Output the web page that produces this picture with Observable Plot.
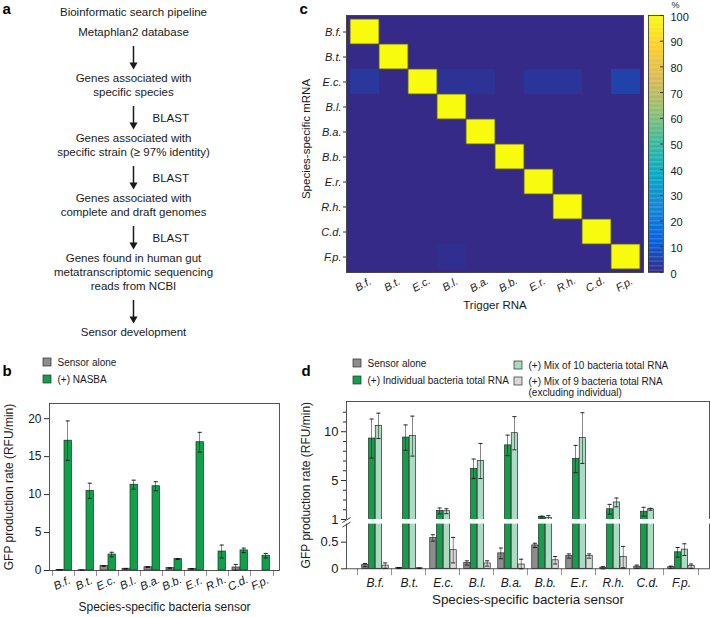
<!DOCTYPE html>
<html><head><meta charset="utf-8">
<script src="https://cdn.jsdelivr.net/npm/d3@7"></script>
<script src="https://cdn.jsdelivr.net/npm/@observablehq/plot@0.6"></script>
<style>
body{margin:0;background:#fff;}
#chart{position:relative;width:710px;height:617px;overflow:hidden;background:#fff;}
</style></head><body><div id="chart"></div>
<script>
const FONT = '"Liberation Sans", Arial, Helvetica, sans-serif';
const W = 710, H = 617;
const EDGE = "#2b2b2b", INK = "#1a1a1a";
const GRAY = "#8d8d8d", GREEN = "#10a04c", LIGHTGREEN = "#abdcc1", LIGHTGRAY = "#d9d9d9";

// ---------- shared categories ----------
const species = ["B.f.", "B.t.", "E.c.", "B.l.", "B.a.", "B.b.", "E.r.", "R.h.", "C.d.", "F.p."];

// ---------- panel a: flowchart ----------
const flowTitle = "Bioinformatic search pipeline";
const flowSteps = [
  "Metaphlan2 database",
  "Genes associated with\nspecific species",
  "Genes associated with\nspecific strain (\u2265 97% identity)",
  "Genes associated with\ncomplete and draft genomes",
  "Genes found in human gut\nmetatranscriptomic sequencing\nreads from NCBI",
  "Sensor development"
];
const flowArrowLabels = ["", "BLAST", "BLAST", "BLAST", ""];

// ---------- panel b ----------
const bLegend = ["Sensor alone", "(+) NASBA"];
const bSensorAlone    = [0.05, 0.04, 0.60, 0.23, 0.44, 0.32, 0.22, 0.00, 0.40, 0.00];
const bSensorAloneErr = [0.02, 0.02, 0.05, 0.04, 0.05, 0.04, 0.04, 0.00, 0.40, 0.00];
const bNasba    = [17.1, 10.5, 2.1, 11.3, 11.1, 1.5, 16.9, 2.5, 2.65, 1.95];
const bNasbaErr = [2.6, 1.0, 0.3, 0.6, 0.6, 0.05, 1.3, 0.85, 0.3, 0.3];
const bYTicks = [0, 5, 10, 15, 20];

// ---------- panel c ----------
const cMatrix = [ // rows: species-specific mRNA, columns: trigger RNA (%)
  [100, 0, 0, 0, 0, 0, 0, 0, 0, 0],
  [0, 100, 0, 0, 0, 0, 0, 0, 0, 0],
  [3, 0, 100, 2, 2, 0, 2.5, 2.5, 0, 5],
  [0, 0, 0, 100, 0, 0, 0, 0, 0, 0],
  [0, 0, 0, 0, 100, 0, 0, 0, 0, 0],
  [0, 0, 0, 0, 0, 100, 0, 0, 0, 0],
  [0, 0, 0, 0, 0, 0, 100, 0, 0, 0],
  [0, 0, 0, 0, 0, 0, 0, 100, 0, 0],
  [0, 0, 0, 0, 0, 0, 0, 0, 100, 0],
  [0, 0, 0, 1.2, 0, 0, 0, 0, 0, 100]
];
const cColorTicks = [0, 10, 20, 30, 40, 50, 60, 70, 80, 90, 100];
const parula = ["#352a87", "#0363e1", "#1485d4", "#06a7c6", "#38b99e", "#92bf73", "#d9ba56", "#fcce2e", "#f9fb0e"];

// ---------- panel d ----------
const dLegend = ["Sensor alone", "(+) Individual bacteria total RNA", "(+) Mix of 10 bacteria total RNA", "(+) Mix of 9 bacteria total RNA\n(excluding individual)"];
const dSensorAlone    = [0.07, 0.015, 0.58, 0.11, 0.29, 0.44, 0.24, 0.02, 0.04, 0.03];
const dSensorAloneErr = [0.03, 0.01, 0.06, 0.04, 0.10, 0.04, 0.04, 0.02, 0.03, 0.02];
const dIndividual    = [9.3, 9.4, 1.88, 6.2, 8.6, 1.25, 7.2, 2.05, 1.8, 0.31];
const dIndividualErr = [2.0, 1.3, 0.3, 1.0, 1.05, 0.1, 1.4, 0.5, 0.45, 0.09];
const dMix10    = [10.6, 9.55, 1.85, 7.0, 9.85, 1.15, 9.35, 2.75, 2.05, 0.36];
const dMix10Err = [1.3, 2.05, 0.25, 1.8, 1.7, 0.25, 2.6, 0.45, 0.1, 0.11];
const dMix9    = [0.06, 0.01, 0.35, 0.10, 0.08, 0.16, 0.24, 0.22, 0.00, 0.05];
const dMix9Err = [0.05, 0.005, 0.24, 0.05, 0.10, 0.07, 0.04, 0.20, 0.00, 0.04];
const dMajorTicks = [0, 0.5, 1, 5, 10];
const dMinorTicks = [2, 3, 4, 6, 7, 8, 9, 11, 12];

// ================= rendering =================
const root = document.getElementById("chart");
const base = () => ({width: W, height: H,
  style: {background: "transparent", fontFamily: FONT, position: "absolute", left: "0px", top: "0px", color: INK}});

function groupedBars(rows, series, bw, offsets, barW) {
  const marks = [];
  series.forEach((s, k) => {
    const off = offsets[k];
    marks.push(Plot.barY(rows, {x: "sp", y1: 0, y2: s.v, fill: s.fill, stroke: EDGE, strokeWidth: 0.7,
      insetLeft: off, insetRight: bw - off - barW}));
  });
  series.forEach((s, k) => {
    const c = offsets[k] + barW / 2;
    const er = rows.filter(d => d[s.e] > 0);
    const lo = d => Math.max(0, d[s.v] - d[s.e]);
    const hi = d => d[s.v] + d[s.e];
    marks.push(Plot.barY(er, {x: "sp", y1: lo, y2: hi, fill: "#111", insetLeft: c - 0.5, insetRight: bw - c - 0.5}));
    marks.push(Plot.tickY(er, {x: "sp", y: hi, stroke: "#111", strokeWidth: 0.9, insetLeft: c - 2.3, insetRight: bw - c - 2.3}));
    marks.push(Plot.tickY(er, {x: "sp", y: lo, stroke: "#111", strokeWidth: 0.9, insetLeft: c - 2.3, insetRight: bw - c - 2.3}));
  });
  return marks;
}
function boundaryTicks(bw, len) {
  return [
    Plot.barY(species, {x: d => d, y1: 0, y2: -len, fill: EDGE, insetLeft: -0.5, insetRight: bw - 0.5}),
    Plot.barY([species[species.length - 1]], {x: d => d, y1: 0, y2: -len, fill: EDGE, insetLeft: bw - 0.5, insetRight: -0.5})
  ];
}

// ---- panel b ----
const bRange = [50, 275];
const bBW = (bRange[1] - bRange[0]) / species.length;
const bRows = species.map((sp, i) => ({sp, v0: bSensorAlone[i], e0: bSensorAloneErr[i], v1: bNasba[i], e1: bNasbaErr[i]}));
const plotB = Plot.plot({...base(),
  marginLeft: 49, marginRight: W - 279, marginTop: 403, marginBottom: H - 570,
  x: {type: "band", domain: species, range: bRange, padding: 0, axis: null},
  y: {type: "linear", domain: [0, 22], range: [570, 403]},
  marks: [
    ...groupedBars(bRows, [{v: "v0", e: "e0", fill: GRAY}, {v: "v1", e: "e1", fill: GREEN}], bBW, [3, 11], 8),
    Plot.frame({stroke: EDGE, strokeWidth: 0.8}),
    ...boundaryTicks(bBW, 0.8),
    Plot.axisY(bYTicks, {tickSize: 5, tickPadding: 3, fontSize: 12, label: null, stroke: EDGE}),
    Plot.text(species, {x: d => d, text: d => d, frameAnchor: "bottom", dy: 16, dx: -1, rotate: -25, textAnchor: "middle", fontStyle: "italic", fontSize: 11.5}),
    Plot.text(["Species-specific bacteria sensor"], {text: d => d, frameAnchor: "bottom", dy: 40, textAnchor: "middle", fontSize: 12}),
    Plot.text(["GFP production rate (RFU/min)"], {text: d => d, frameAnchor: "left", dx: -40, rotate: -90, textAnchor: "middle", fontSize: 12})
  ]
});
root.appendChild(plotB);

// ---- panel c ----
const cells = [];
cMatrix.forEach((row, i) => row.forEach((v, j) => cells.push({mrna: species[i], trig: species[j], v})));
const colorScale = () => ({type: "linear", domain: parula.map((_, i) => 100 * i / (parula.length - 1)), range: parula, interpolate: "rgb"});
const plotC = Plot.plot({...base(),
  marginLeft: 346, marginRight: W - 643, marginTop: 15, marginBottom: H - 272,
  x: {type: "band", domain: species, range: [346, 643], padding: 0, axis: null},
  y: {type: "band", domain: species, range: [15, 272], padding: 0},
  color: colorScale(),
  marks: [
    Plot.frame({fill: parula[0]}),
    Plot.cell(cells, {x: "trig", y: "mrna", fill: "v"}),
    Plot.cell(cells.filter(d => d.v >= 100), {x: "trig", y: "mrna", fill: "v", stroke: "#5b5a2e", strokeWidth: 0.9}),
    Plot.frame({stroke: "#333", strokeWidth: 0.8}),
    Plot.axisY({tickSize: 3, tickPadding: 2, fontStyle: "italic", fontSize: 11, label: null, stroke: "#333"}),
    Plot.text(species, {x: d => d, text: d => d, frameAnchor: "bottom", dy: 15, rotate: -30, textAnchor: "middle", fontStyle: "italic", fontSize: 11}),
    Plot.text(["Trigger RNA"], {text: d => d, frameAnchor: "bottom", dy: 36, textAnchor: "middle", fontSize: 11.5}),
    Plot.text(["Species-specific mRNA"], {text: d => d, frameAnchor: "left", dx: -40, dy: -5, rotate: -90, textAnchor: "middle", fontSize: 11.5})
  ]
});
root.appendChild(plotC);

// ---- colour bar ----
const plotCB = Plot.plot({...base(),
  marginLeft: 648, marginRight: W - 663, marginTop: 15, marginBottom: H - 272,
  y: {type: "linear", domain: [0, 100], range: [272, 15], axis: null},
  color: colorScale(),
  marks: [
    Plot.rect(d3.range(0, 100, 0.5), {y1: d => d, y2: d => d + 0.6, fill: d => d + 0.25}),
    Plot.frame({stroke: "#333", strokeWidth: 0.8}),
    Plot.tickY(cColorTicks, {y: d => d, insetLeft: 12, stroke: "#333"}),
    Plot.text(cColorTicks, {y: d => d, text: d => String(d), frameAnchor: "right", dx: 7, dy: 1.5, textAnchor: "start", fontSize: 11}),
    Plot.text(["%"], {text: d => d, frameAnchor: "top-right", dx: 8, dy: -10.5, textAnchor: "start", lineAnchor: "middle", fontSize: 9})
  ]
});
root.appendChild(plotCB);

// ---- panel d ----
const dRange = [355, 700];
const dBW = (dRange[1] - dRange[0]) / species.length;
const dRows = species.map((sp, i) => ({sp,
  v0: dSensorAlone[i], e0: dSensorAloneErr[i], v1: dIndividual[i], e1: dIndividualErr[i],
  v2: dMix10[i], e2: dMix10Err[i], v3: dMix9[i], e3: dMix9Err[i]}));
const dBarW = 6.75;
const dOffsets = [3.75, 10.5, 17.25, 24];
const plotD = Plot.plot({...base(),
  marginLeft: 346, marginRight: 1, marginTop: 401, marginBottom: H - 568.3,
  x: {type: "band", domain: species, range: dRange, padding: 0, axis: null},
  y: {type: "linear", domain: [0, 0.84, 1, 13.1], range: [568.3, 523.6, 519, 401]},
  marks: [
    ...groupedBars(dRows, [
      {v: "v0", e: "e0", fill: GRAY}, {v: "v1", e: "e1", fill: GREEN},
      {v: "v2", e: "e2", fill: LIGHTGREEN}, {v: "v3", e: "e3", fill: LIGHTGRAY}], dBW, dOffsets, dBarW),
    Plot.frame({stroke: EDGE, strokeWidth: 0.8}),
    Plot.rect([0], {y1: 0.84, y2: 1, fill: "white", insetLeft: -4, insetRight: -4}),
    ...boundaryTicks(dBW, 0.13),
    Plot.axisY(dMajorTicks, {tickSize: 5, tickPadding: 3, fontSize: 13, label: null, stroke: EDGE, tickFormat: d => String(d)}),
    Plot.axisY(dMinorTicks, {tickSize: 3, fontSize: 13, label: null, stroke: EDGE, tickFormat: () => ""}),
    Plot.text(species, {x: d => d, text: d => d, frameAnchor: "bottom", dy: 18, textAnchor: "middle", fontStyle: "italic", fontSize: 12}),
    Plot.text(["Species-specific bacteria sensor"], {text: d => d, frameAnchor: "bottom", dy: 35, textAnchor: "middle", fontSize: 13.4}),
    Plot.text(["GFP production rate (RFU/min)"], {text: d => d, frameAnchor: "left", dx: -40, rotate: -90, textAnchor: "middle", fontSize: 12})
  ]
});
root.appendChild(plotD);

// ---- overlay: flowchart, legends, panel letters ----
const cx = 133, lineH = 14, stepGap = 46;
const flowLines = [{y: 12, t: flowTitle}];
const flowArrows = [];
let yy = 32;
flowSteps.forEach((step, i) => {
  const lines = step.split("\n");
  lines.forEach((t, k) => flowLines.push({y: yy + k * lineH, t}));
  const last = yy + (lines.length - 1) * lineH;
  if (i < flowSteps.length - 1) {
    const next = last + stepGap;
    flowArrows.push({y1: last + 14, y2: next - 9, label: flowArrowLabels[i]});
    yy = next;
  }
});
const letters = [{t: "a", x: 2, y: 9}, {t: "b", x: 2, y: 371}, {t: "c", x: 299, y: 9}, {t: "d", x: 301, y: 371}];
const legendItems = [
  {x: 43, y: 358, fill: GRAY, t: bLegend[0]},
  {x: 43, y: 375, fill: GREEN, t: bLegend[1]},
  {x: 353, y: 359, fill: GRAY, t: dLegend[0]},
  {x: 353, y: 376, fill: GREEN, t: dLegend[1]},
  {x: 514, y: 361, fill: LIGHTGREEN, t: dLegend[2]},
  {x: 514, y: 377, fill: LIGHTGRAY, t: dLegend[3]}
];
const legendText = legendItems.flatMap(d => d.t.split("\n").map((t, k) => ({x: d.x + 14, y: d.y + 4 + k * 11, t})));
const yDs = plotD.scale("y");
const breakTop = yDs.apply(1), breakBot = yDs.apply(0.84);
const breaks = [{y: breakTop + 0.5}, {y: breakBot + 0.5}];

const plotA = Plot.plot({...base(),
  margin: 0,
  x: {type: "identity", axis: null},
  y: {type: "identity", axis: null},
  marks: [
    Plot.text(flowLines, {x: () => cx, y: "y", text: "t", fontSize: 11.5, fill: INK}),
    Plot.ruleX(flowArrows, {x: () => cx, y1: "y1", y2: d => d.y2 - 6, strokeWidth: 1.5, stroke: INK}),
    Plot.dot(flowArrows, {x: () => cx, y: d => d.y2 - 4.6, symbol: "triangle", r: 3, rotate: 180, fill: INK, stroke: "none"}),
    Plot.text(flowArrows.filter(d => d.label), {x: () => 152, y: d => (d.y1 + d.y2) / 2, text: "label", textAnchor: "start", fontSize: 11.5, fill: INK}),
    Plot.text(letters, {x: "x", y: "y", text: "t", textAnchor: "start", fontWeight: "bold", fontSize: 15, fill: "#000"}),
    Plot.rect(legendItems, {x1: "x", x2: d => d.x + 8, y1: "y", y2: d => d.y + 8, fill: "fill", stroke: EDGE, strokeWidth: 0.7}),
    Plot.text(legendText, {x: "x", y: "y", text: "t", textAnchor: "start", fontSize: 10, fill: INK}),
    Plot.link(breaks, {x1: () => 342, y1: d => d.y + 2.5, x2: () => 350, y2: d => d.y - 2.5, stroke: EDGE, strokeWidth: 0.9})
  ]
});
root.appendChild(plotA);
</script>
</body></html>
